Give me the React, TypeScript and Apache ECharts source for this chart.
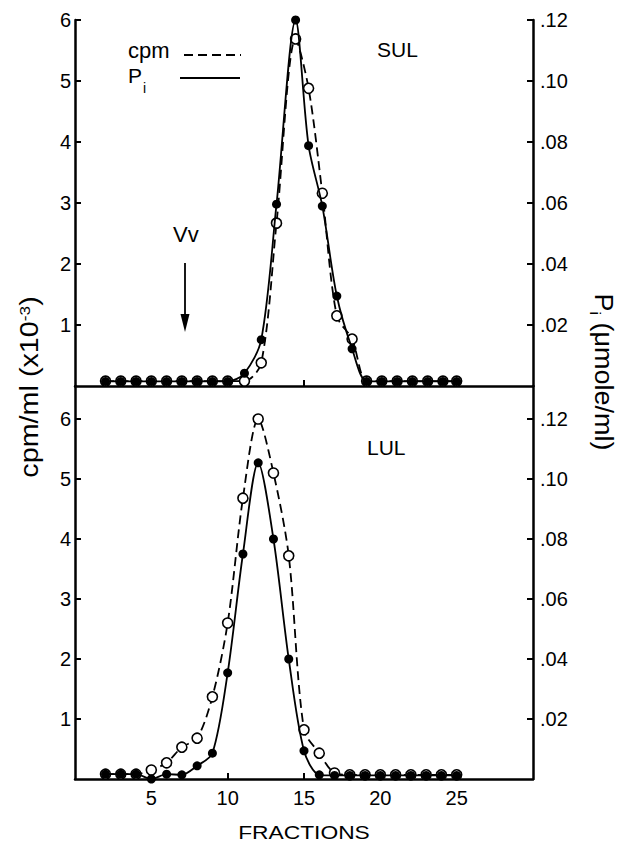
import React, { useEffect, useRef } from "react";
import * as echarts from "echarts";

// ---- SUL (top panel) ----
const sulFractions = [2, 3, 4, 5, 6, 7, 8, 9, 10, 11.1, 12.2, 13.2, 14.45, 15.3, 16.2, 17.15, 18.15, 19.1, 20.1, 21.1, 22.1, 23.1, 24.1, 25];
const sulCpm = [0.08, 0.08, 0.08, 0.08, 0.08, 0.08, 0.08, 0.08, 0.08, 0.08, 0.38, 2.67, 5.69, 4.88, 3.16, 1.15, 0.77, 0.08, 0.08, 0.08, 0.08, 0.08, 0.08, 0.08];
const sulPi = [0.0015, 0.0015, 0.0015, 0.0015, 0.0015, 0.0015, 0.0015, 0.0015, 0.0015, 0.0042, 0.0152, 0.0596, 0.12, 0.0788, 0.059, 0.0295, 0.0122, 0.0015, 0.0015, 0.0015, 0.0015, 0.0015, 0.0015, 0.0015];

// ---- LUL (bottom panel) ----
const lulFractions = [2, 3, 4, 5, 6, 7, 8, 9, 10, 11, 12, 13, 14, 15, 16, 17, 18, 19, 20, 21, 22, 23, 24, 25];
const lulCpm = [0.08, 0.08, 0.08, 0.15, 0.27, 0.53, 0.68, 1.37, 2.6, 4.68, 6.0, 5.1, 3.72, 0.82, 0.43, 0.1, 0.07, 0.07, 0.07, 0.07, 0.07, 0.07, 0.07, 0.07];
const lulPi = [0.0016, 0.0016, 0.0016, 0.0, 0.0016, 0.0014, 0.0044, 0.0086, 0.0354, 0.075, 0.1054, 0.08, 0.04, 0.0094, 0.0014, 0.0012, 0.0012, 0.0012, 0.0012, 0.0012, 0.0012, 0.0012, 0.0012, 0.0012];

// ---- tick labels ----
const xTicks = [5, 10, 15, 20, 25];
const cpmTicks = [1, 2, 3, 4, 5, 6];
const piTicks = [0.02, 0.04, 0.06, 0.08, 0.1, 0.12];

const FONT = "Liberation Sans";

export default function App() {
  const ref = useRef<HTMLDivElement>(null);

  useEffect(() => {
    const chart = echarts.init(ref.current!, null, { renderer: "svg" });
    const pair = (xs: number[], ys: number[]) => xs.map((x, i) => [x, ys[i]]);

    const axisLine = { show: true, lineStyle: { color: "#000", width: 2.5 } };
    const tick = (vals: number[]) => ({
      show: true,
      inside: true,
      length: 6,
      customValues: vals,
      lineStyle: { color: "#000", width: 2 },
    });
    const labelBase = { color: "#000", fontFamily: FONT, fontSize: 20 };

    const xAxis = (gridIndex: number, showLabel: boolean) => ({
      type: "value",
      gridIndex,
      min: 0,
      max: 30,
      axisLine,
      axisTick: tick(xTicks),
      axisLabel: { ...labelBase, show: showLabel, customValues: xTicks, margin: 9 },
      splitLine: { show: false },
    });

    const yLeft = (gridIndex: number, max: number) => ({
      type: "value",
      gridIndex,
      position: "left",
      min: 0,
      max,
      axisLine,
      axisTick: tick(cpmTicks),
      axisLabel: { ...labelBase, customValues: cpmTicks, margin: 4 },
      splitLine: { show: false },
    });

    const yRight = (gridIndex: number, max: number) => ({
      type: "value",
      gridIndex,
      position: "right",
      min: 0,
      max,
      axisLine,
      axisTick: tick(piTicks),
      axisLabel: {
        ...labelBase,
        customValues: piTicks,
        margin: 7,
        formatter: (v: number) => v.toFixed(2).replace(/^0/, ""),
      },
      splitLine: { show: false },
    });

    const openSeries = (xi: number, yi: number, xs: number[], ys: number[]) => ({
      type: "line",
      xAxisIndex: xi,
      yAxisIndex: yi,
      data: pair(xs, ys),
      smooth: 0.3,
      symbol: "circle",
      symbolSize: 10,
      z: 3,
      itemStyle: { color: "#fff", borderColor: "#000", borderWidth: 1.6 },
      lineStyle: { color: "#000", width: 1.8, type: [9, 5] },
    });
    const filledSeries = (xi: number, yi: number, xs: number[], ys: number[]) => ({
      type: "line",
      xAxisIndex: xi,
      yAxisIndex: yi,
      data: pair(xs, ys),
      smooth: 0.3,
      symbol: "circle",
      symbolSize: 9,
      z: 4,
      itemStyle: { color: "#000", borderColor: "#000", borderWidth: 0 },
      lineStyle: { color: "#000", width: 1.8 },
    });

    const txt = (x: number, y: number, text: string, fontSize: number, extra: any = {}) => ({
      type: "text",
      x,
      y,
      ...extra,
      style: {
        text,
        fill: "#000",
        fontFamily: FONT,
        fontSize,
        align: "left",
        verticalAlign: "middle",
        ...(extra.style || {}),
      },
    });

    chart.setOption({
      animation: false,
      grid: [
        { left: 75, right: 84, top: 20, height: 366, outerBoundsMode: "none" },
        { left: 75, right: 84, top: 386, height: 393, outerBoundsMode: "none" },
      ],
      xAxis: [xAxis(0, false), xAxis(1, true)],
      yAxis: [yLeft(0, 6), yRight(0, 0.12), yLeft(1, 6.55), yRight(1, 0.131)],
      series: [
        openSeries(0, 0, sulFractions, sulCpm),
        filledSeries(0, 1, sulFractions, sulPi),
        openSeries(1, 2, lulFractions, lulCpm),
        filledSeries(1, 3, lulFractions, lulPi),
      ],
      graphic: [
        // legend
        txt(128, 50, "cpm", 22),
        {
          type: "line",
          shape: { x1: 184, y1: 55, x2: 241, y2: 55 },
          style: { stroke: "#000", lineWidth: 2, lineDash: [9, 5] },
        },
        txt(128, 75, "P", 21),
        txt(143, 88, "i", 14),
        {
          type: "line",
          shape: { x1: 180, y1: 78, x2: 240, y2: 78 },
          style: { stroke: "#000", lineWidth: 2 },
        },
        // panel labels
        txt(377, 49, "SUL", 21),
        txt(367, 447, "LUL", 21),
        // Vv arrow
        txt(173, 234, "Vv", 22),
        {
          type: "line",
          shape: { x1: 185, y1: 263, x2: 185, y2: 318 },
          style: { stroke: "#000", lineWidth: 1.8 },
        },
        {
          type: "polygon",
          shape: { points: [[180.5, 314], [189.5, 314], [185, 332]] },
          style: { fill: "#000" },
        },
        // axis titles
        {
          type: "text",
          x: 31,
          y: 387,
          rotation: Math.PI / 2,
          scaleX: 1.15,
          style: {
            text: "{a|cpm/ml (x10}{b|-3}{a|)}",
            fill: "#000",
            align: "center",
            verticalAlign: "middle",
            rich: {
              a: { fontFamily: FONT, fontSize: 25, fill: "#000", verticalAlign: "top", lineHeight: 28 },
              b: { fontFamily: FONT, fontSize: 15, fill: "#000", verticalAlign: "top" },
            },
          },
        },
        {
          type: "text",
          x: 602,
          y: 372,
          rotation: -Math.PI / 2,
          scaleX: 1.08,
          style: {
            text: "{a|P}{b|i}{a| (μmole/ml)}",
            fill: "#000",
            align: "center",
            verticalAlign: "middle",
            rich: {
              a: { fontFamily: FONT, fontSize: 25, fill: "#000", verticalAlign: "top", lineHeight: 28 },
              b: { fontFamily: FONT, fontSize: 15, fill: "#000", verticalAlign: "bottom" },
            },
          },
        },
        {
          type: "text",
          x: 304,
          y: 832,
          scaleX: 1.2,
          style: {
            text: "FRACTIONS",
            fill: "#000",
            fontFamily: FONT,
            fontSize: 19,
            align: "center",
            verticalAlign: "middle",
          },
        },
      ],
    });

    return () => chart.dispose();
  }, []);

  return (
    <div
      ref={ref}
      style={{ position: "absolute", left: 0, top: 0, width: 617, height: 843, background: "#fff" }}
    />
  );
}
